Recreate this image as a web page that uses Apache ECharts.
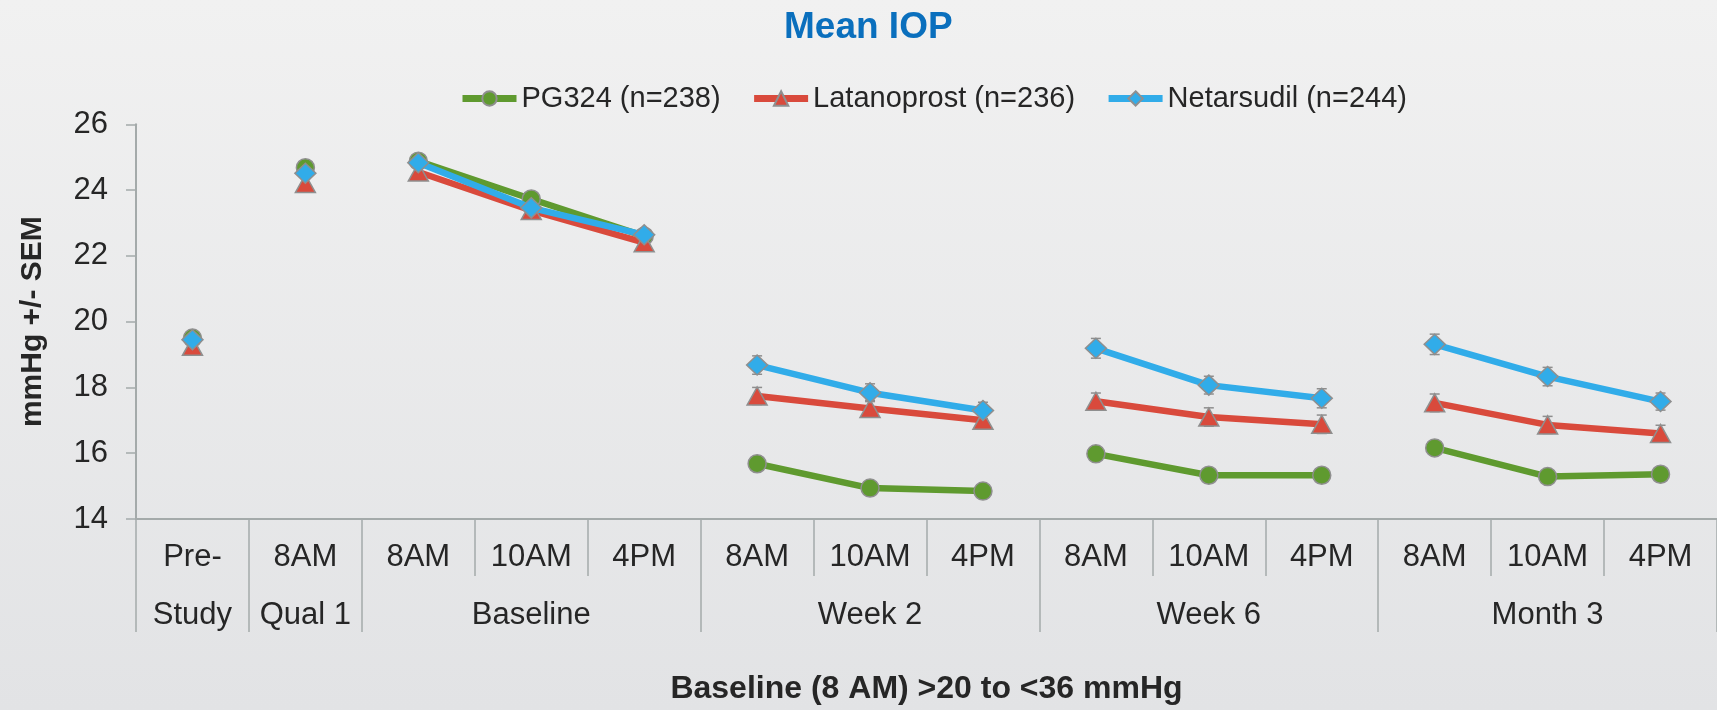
<!DOCTYPE html>
<html><head><meta charset="utf-8">
<script src="https://cdn.jsdelivr.net/npm/echarts@6/dist/echarts.min.js"></script>
<style>
html,body{margin:0;padding:0;}
#c{width:1717px;height:710px;background:linear-gradient(180deg,#f1f1f1 0%,#e2e3e5 100%);}
</style>
</head><body><div id="c"></div>
<script>
// ---- data ----
const timeLabels = ['Pre-','8AM','8AM','10AM','4PM','8AM','10AM','4PM','8AM','10AM','4PM','8AM','10AM','4PM'];
const visitLabels = ['Study','Qual 1','','Baseline','','','Week 2','','','Week 6','','','Month 3',''];
const visitOf = [0,1,2,2,2,3,3,3,4,4,4,5,5,5];
const seriesNames = ['PG324 (n=238)','Latanoprost (n=236)','Netarsudil (n=244)'];
const pg324 =       [19.50,24.68,24.88,23.73,22.60,15.68,14.94,14.85,15.98,15.33,15.33,16.16,15.29,15.36];
const latanoprost = [19.25,24.20,24.55,23.38,22.40,17.74,17.36,17.00,17.58,17.10,16.88,17.53,16.86,16.60];
const netarsudil =  [19.45,24.51,24.83,23.46,22.64,18.68,17.84,17.30,19.19,18.07,17.67,19.31,18.33,17.57];
const semPg324 =       [0.15,0.15,0.15,0.15,0.15,0.22,0.20,0.20,0.22,0.20,0.20,0.22,0.20,0.20];
const semLatanoprost = [0.15,0.15,0.15,0.15,0.15,0.26,0.25,0.24,0.25,0.28,0.28,0.27,0.26,0.25];
const semNetarsudil =  [0.15,0.15,0.15,0.15,0.15,0.28,0.27,0.25,0.30,0.27,0.29,0.31,0.28,0.26];
const yTicks = {min:14, max:26, interval:2};

// ---- styles ----
const colors = ['#5f9a2f','#d94a3c','#31ace9'];
const symbols = ['circle','triangle','diamond'];
const symbolSizes = [18,[20,18],[21,20]];
const values = [pg324, latanoprost, netarsudil];
const sems = [semPg324, semLatanoprost, semNetarsudil];
const axisGray = '#a4aaaa';
const textDark = '#262626';
const font = 'Liberation Sans, Arial, sans-serif';
const nVisits = Math.max(...visitOf) + 1;

const series = [];
values.forEach((vals, s) => {
  // error bars (mean +/- SEM)
  series.push({
    type: 'custom',
    silent: true,
    z: 1,
    data: vals.map((v, i) => [i, v - sems[s][i], v + sems[s][i]]),
    renderItem: function (params, api) {
      const lo = api.coord([api.value(0), api.value(1)]);
      const hi = api.coord([api.value(0), api.value(2)]);
      const cap = 5;
      const st = {stroke: '#8e8e8e', lineWidth: 1.5};
      return {type: 'group', children: [
        {type: 'line', shape: {x1: lo[0], y1: lo[1], x2: hi[0], y2: hi[1]}, style: st},
        {type: 'line', shape: {x1: lo[0]-cap, y1: lo[1], x2: lo[0]+cap, y2: lo[1]}, style: st},
        {type: 'line', shape: {x1: hi[0]-cap, y1: hi[1], x2: hi[0]+cap, y2: hi[1]}, style: st}
      ]};
    }
  });
});
values.forEach((vals, s) => {
  for (let g = 0; g < nVisits; g++) {
    series.push({
      name: seriesNames[s],
      type: 'line',
      z: 3 + s,
      data: vals.map((v, i) => visitOf[i] === g ? v : '-'),
      connectNulls: false,
      symbol: symbols[s],
      symbolSize: symbolSizes[s],
      showAllSymbol: true,
      lineStyle: {color: colors[s], width: 6.5},
      itemStyle: {color: colors[s], borderColor: '#8f8f8f', borderWidth: 1.5},
      emphasis: {disabled: true},
      animation: false
    });
  }
});

const isVisitStart = (i) => i === 0 || visitOf[i] !== visitOf[i - 1];

const chart = echarts.init(document.getElementById('c'), null, {renderer: 'canvas'});
chart.setOption({
  backgroundColor: 'transparent',
  animation: false,
  title: {
    text: 'Mean IOP',
    left: 779, top: 4,
    textStyle: {color: '#0a6fbd', fontSize: 37, fontWeight: 'bold', fontFamily: font}
  },
  legend: {
    data: seriesNames,
    left: 454, top: 79,
    itemWidth: 54, itemHeight: 18, itemGap: 30,
    lineStyle: {width: 7},
    textStyle: {color: textDark, fontSize: 29, fontFamily: font}
  },
  grid: {left: 136, right: -2, top: 124.3, bottom: 185, containLabel: false},
  xAxis: [{
    type: 'category',
    data: timeLabels,
    position: 'bottom',
    boundaryGap: true,
    axisLine: {show: true, lineStyle: {color: axisGray, width: 2}},
    axisTick: {show: true, length: 57, interval: 0, lineStyle: {color: axisGray, width: 1.5}},
    axisLabel: {interval: 0, margin: 23, color: textDark, fontSize: 31, fontFamily: font},
    name: 'Baseline (8 AM) >20 to <36 mmHg',
    nameLocation: 'middle',
    nameGap: 154,
    nameTextStyle: {color: textDark, fontSize: 32, fontWeight: 'bold', fontFamily: font}
  }, {
    type: 'category',
    data: visitLabels,
    position: 'bottom',
    boundaryGap: true,
    axisLine: {show: false},
    axisTick: {show: true, length: 113, interval: (i) => isVisitStart(i), lineStyle: {color: axisGray, width: 1.5}},
    axisLabel: {interval: 0, margin: 81, color: textDark, fontSize: 31, fontFamily: font}
  }],
  yAxis: {
    type: 'value',
    min: yTicks.min, max: yTicks.max, interval: yTicks.interval,
    splitLine: {show: false},
    axisLine: {show: true, lineStyle: {color: axisGray, width: 2}},
    axisTick: {show: true, length: 10, lineStyle: {color: axisGray, width: 1.5}},
    axisLabel: {margin: 28, color: textDark, fontSize: 31, fontFamily: font},
    name: 'mmHg +/- SEM',
    nameLocation: 'middle',
    nameGap: 88,
    nameTextStyle: {color: textDark, fontSize: 30, fontWeight: 'bold', fontFamily: font}
  },
  series: series
});
</script>
</body></html>
